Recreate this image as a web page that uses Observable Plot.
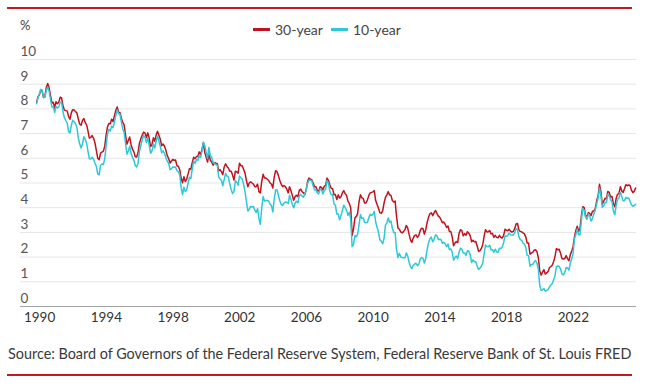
<!DOCTYPE html>
<html>
<head>
<meta charset="utf-8">
<script src="https://cdn.jsdelivr.net/npm/d3@7"></script>
<script src="https://cdn.jsdelivr.net/npm/@observablehq/plot@0.6"></script>
<style>
  body { margin: 0; background: #fff; font-family: Lato, "Open Sans", sans-serif; }
  #wrap { position: relative; width: 653px; height: 387px; overflow: hidden; background: #fff; }
  .rule { position: absolute; left: 7px; width: 625px; height: 2px; background: #c8161e; }
  #pct { position: absolute; left: 20px; top: 17px; font-size: 13px; color: #444; }
  #legend { position: absolute; top: 21px; left: 253px; font-size: 14px; color: #444; display: flex; align-items: center; white-space: nowrap; }
  .sw { display: inline-block; width: 17px; height: 3px; margin-right: 5px; }
  .item { display: flex; align-items: center; margin-right: 8px; }
  #chart { position: absolute; left: 0; top: 40px; }
  #source { position: absolute; left: 8px; top: 345px; font-size: 14.4px; color: #3a3a3a; white-space: nowrap; }
</style>
</head>
<body>
<div id="wrap">
  <div class="rule" style="top:7px"></div>
  <div id="pct">%</div>
  <div id="legend"></div>
  <div id="chart"></div>
  <div id="source">Source: Board of Governors of the Federal Reserve System, Federal Reserve Bank of St. Louis FRED</div>
  <div class="rule" style="top:374px"></div>
</div>
<script>
// Series names and colours
const seriesNames = ["30-year", "10-year"];
const seriesColors = ["#c1121f", "#2ec8d6"];

// First month of the monthly series
const startYear = 1990;

// 30-year yield, monthly, Jan 1990 - Dec 2025 (%)
const thirtyYear = [
  8.26,8.50,8.56,8.76,8.73,8.46,8.50,8.86,9.03,8.86,8.54,8.24,
  8.27,8.03,8.29,8.21,8.27,8.47,8.45,8.14,7.95,7.93,7.92,7.70,
  7.58,7.85,7.97,7.96,7.89,7.84,7.60,7.39,7.34,7.53,7.61,7.44,
  7.34,7.09,6.82,6.85,6.92,6.81,6.63,6.32,6.00,5.94,6.21,6.25,
  6.29,6.49,6.91,7.27,7.41,7.40,7.58,7.49,7.71,7.94,8.08,7.87,
  7.85,7.61,7.45,7.36,6.95,6.57,6.72,6.86,6.55,6.37,6.26,6.06,
  6.05,6.24,6.60,6.79,6.93,7.06,7.03,6.84,7.03,6.81,6.48,6.55,
  6.83,6.69,6.93,7.09,6.94,6.77,6.51,6.58,6.50,6.33,6.11,5.99,
  5.81,5.89,5.95,5.92,5.93,5.70,5.68,5.54,5.20,5.01,5.25,5.06,
  5.16,5.37,5.58,5.55,5.81,6.04,5.98,6.07,6.07,6.26,6.15,6.35,
  6.63,6.23,6.05,5.85,6.15,5.93,5.85,5.72,5.83,5.80,5.78,5.49,
  5.54,5.45,5.34,5.65,5.78,5.67,5.61,5.48,5.48,5.32,5.12,5.48,
  5.45,5.40,5.80,5.70,5.70,5.55,5.40,5.10,4.85,5.00,5.05,5.00,
  4.95,4.85,4.85,4.95,4.65,4.60,5.05,5.35,5.20,5.20,5.15,5.10,
  5.00,4.95,4.80,5.25,5.50,5.45,5.30,5.10,4.95,4.85,4.90,4.85,
  4.75,4.60,4.85,4.70,4.50,4.30,4.45,4.50,4.45,4.70,4.75,4.65,
  4.60,4.54,4.73,5.06,5.20,5.15,5.13,5.00,4.85,4.85,4.69,4.68,
  4.85,4.82,4.72,4.87,4.90,5.20,5.11,4.93,4.79,4.77,4.52,4.53,
  4.33,4.52,4.39,4.44,4.60,4.69,4.57,4.50,4.27,4.17,4.00,2.87,
  3.13,3.59,3.64,3.76,4.23,4.52,4.41,4.37,4.19,4.19,4.31,4.49,
  4.60,4.62,4.64,4.69,4.29,4.13,3.99,3.80,3.77,3.87,4.19,4.42,
  4.52,4.65,4.51,4.50,4.29,4.23,4.27,3.65,3.18,3.13,3.02,2.98,
  3.03,3.11,3.28,3.18,2.93,2.70,2.59,2.77,2.88,2.90,2.80,2.88,
  3.08,3.17,3.16,2.93,3.11,3.40,3.61,3.76,3.79,3.68,3.80,3.89,
  3.77,3.66,3.62,3.52,3.39,3.42,3.33,3.20,3.26,3.04,3.04,2.83,
  2.46,2.57,2.63,2.59,2.96,3.11,3.07,2.86,2.95,2.89,3.03,2.97,
  2.86,2.62,2.68,2.62,2.63,2.45,2.23,2.26,2.35,2.50,2.86,3.11,
  3.02,3.03,3.08,2.94,2.96,2.80,2.88,2.80,2.78,2.88,2.80,2.77,
  2.88,3.13,3.09,3.07,3.13,3.05,3.01,3.04,3.15,3.34,3.36,3.10,
  3.04,3.02,2.98,2.94,2.82,2.57,2.57,2.12,2.16,2.19,2.28,2.30,
  2.22,1.97,1.46,1.27,1.38,1.49,1.31,1.36,1.42,1.57,1.62,1.67,
  1.82,2.04,2.34,2.30,2.32,2.16,1.94,1.92,1.94,2.06,1.94,1.85,
  2.10,2.25,2.41,2.81,3.07,3.25,3.04,3.16,3.68,4.04,4.00,3.66,
  3.66,3.80,3.77,3.68,3.86,3.87,3.96,4.28,4.47,4.95,4.66,4.14,
  4.26,4.38,4.36,4.66,4.62,4.44,4.46,4.15,4.04,4.38,4.54,4.58,
  4.85,4.68,4.62,4.77,4.93,4.89,4.92,4.90,4.71,4.61,4.67,4.80
];

// 10-year yield, monthly, Jan 1990 - Dec 2025 (%)
const tenYear = [
  8.21,8.47,8.59,8.79,8.76,8.48,8.47,8.75,8.89,8.72,8.39,8.08,
  8.09,7.85,8.11,8.04,8.07,8.28,8.27,7.90,7.65,7.53,7.42,7.09,
  7.03,7.34,7.54,7.48,7.39,7.26,6.84,6.59,6.42,6.59,6.87,6.77,
  6.60,6.26,5.98,5.97,6.04,5.96,5.81,5.68,5.36,5.33,5.72,5.77,
  5.75,5.97,6.48,6.97,7.18,7.10,7.30,7.24,7.46,7.74,7.96,7.81,
  7.78,7.47,7.20,7.06,6.63,6.17,6.28,6.49,6.20,6.04,5.93,5.71,
  5.65,5.81,6.27,6.51,6.74,6.91,6.87,6.64,6.83,6.53,6.20,6.30,
  6.58,6.42,6.69,6.89,6.71,6.49,6.22,6.30,6.21,6.03,5.88,5.81,
  5.54,5.57,5.65,5.64,5.65,5.50,5.46,5.34,4.81,4.53,4.83,4.65,
  4.72,5.00,5.23,5.18,5.54,5.90,5.79,5.94,5.92,6.11,6.03,6.28,
  6.66,6.52,6.26,5.99,6.44,6.10,6.05,5.83,5.80,5.74,5.72,5.24,
  5.16,5.10,4.89,5.14,5.39,5.28,5.24,4.97,4.73,4.57,4.65,5.09,
  5.04,4.91,5.28,5.21,5.16,4.93,4.65,4.26,3.87,3.94,4.05,4.03,
  4.05,3.90,3.81,3.96,3.57,3.33,3.98,4.45,4.27,4.29,4.30,4.27,
  4.15,4.08,3.83,4.35,4.72,4.73,4.50,4.28,4.13,4.10,4.19,4.23,
  4.22,4.17,4.50,4.34,4.14,4.00,4.18,4.26,4.20,4.46,4.54,4.47,
  4.42,4.57,4.72,4.99,5.11,5.11,5.09,4.88,4.72,4.73,4.60,4.56,
  4.76,4.72,4.56,4.69,4.75,5.10,5.00,4.67,4.52,4.53,4.15,4.10,
  3.74,3.74,3.51,3.68,3.88,4.10,4.01,3.89,3.69,3.81,3.53,2.42,
  2.52,2.87,2.82,2.93,3.29,3.72,3.56,3.59,3.40,3.39,3.40,3.59,
  3.73,3.69,3.73,3.85,3.42,3.20,3.01,2.70,2.65,2.54,2.76,3.29,
  3.39,3.58,3.41,3.46,3.17,3.00,3.00,2.30,1.98,2.15,2.01,1.98,
  1.97,1.97,2.17,2.05,1.80,1.62,1.53,1.68,1.72,1.75,1.65,1.72,
  1.91,1.98,1.96,1.76,1.93,2.30,2.58,2.74,2.81,2.62,2.72,2.90,
  2.86,2.71,2.72,2.71,2.56,2.60,2.54,2.42,2.53,2.30,2.33,2.21,
  1.88,1.98,2.04,1.94,2.20,2.36,2.32,2.17,2.17,2.07,2.26,2.24,
  2.09,1.78,1.89,1.81,1.81,1.64,1.50,1.56,1.63,1.76,2.14,2.49,
  2.43,2.42,2.48,2.30,2.30,2.19,2.32,2.21,2.20,2.36,2.35,2.40,
  2.58,2.86,2.84,2.87,2.98,2.91,2.89,2.89,3.00,3.15,3.12,2.83,
  2.71,2.68,2.57,2.53,2.40,2.07,2.06,1.63,1.70,1.71,1.81,1.86,
  1.76,1.50,0.87,0.66,0.67,0.73,0.62,0.65,0.68,0.79,0.87,0.93,
  1.08,1.26,1.61,1.64,1.62,1.52,1.32,1.28,1.37,1.58,1.56,1.47,
  1.76,1.93,2.13,2.75,2.90,3.14,2.90,2.90,3.52,3.98,3.89,3.62,
  3.53,3.75,3.66,3.46,3.57,3.75,3.90,4.17,4.38,4.80,4.50,4.02,
  4.06,4.21,4.21,4.54,4.48,4.31,4.25,3.87,3.72,4.10,4.36,4.39,
  4.63,4.45,4.28,4.28,4.42,4.38,4.39,4.26,4.12,4.06,4.09,4.14
];

// Axis ticks
const yTicks = [0,1,2,3,4,5,6,7,8,9,10];
const xTickYears = [1990,1994,1998,2002,2006,2010,2014,2018,2022];

// Build tidy rows
const monthDate = i => new Date(Date.UTC(startYear + Math.floor(i / 12), i % 12, 1));
const rows = [];
[thirtyYear, tenYear].forEach((arr, s) => {
  arr.forEach((v, i) => rows.push({date: monthDate(i), value: v, series: seriesNames[s]}));
});
const xTicks = xTickYears.map(y => new Date(Date.UTC(y, 0, 1)));

// Legend
const legend = document.getElementById("legend");
seriesNames.forEach((n, i) => {
  const it = document.createElement("div");
  it.className = "item";
  it.innerHTML = `<span class="sw" style="background:${seriesColors[i]}"></span><span>${n}</span>`;
  legend.appendChild(it);
});

const chart = Plot.plot({
  width: 653,
  height: 290,
  marginLeft: 20,
  marginRight: 17,
  marginTop: 19,
  marginBottom: 24,
  x: {type: "utc", domain: [new Date(Date.UTC(1989, 0, 13)), new Date(Date.UTC(2025, 11, 20))]},
  y: {domain: [0, 10]},
  color: {domain: seriesNames, range: seriesColors},
  style: {fontFamily: "Lato, 'Open Sans', sans-serif", fontSize: "13.5px", color: "#333", background: "transparent", overflow: "visible"},
  marks: [
    Plot.gridY(yTicks.slice(1), {stroke: "#e6e6e6", strokeOpacity: 1}),
    Plot.ruleY([0], {stroke: "#a3a3a3", strokeWidth: 1.2}),
    Plot.axisY(yTicks, {tickSize: 0, tickPadding: 0, textAnchor: "start", dy: -8, fill: "#555", label: null}),
    Plot.axisX(xTicks, {tickSize: 0, tickPadding: 6, tickFormat: "%Y", dx: 3, fill: "#333", label: null}),
    Plot.line(rows, {x: "date", y: "value", stroke: "series", z: "series", strokeWidth: 1.5})
  ]
});
document.getElementById("chart").appendChild(chart);
</script>
</body>
</html>
